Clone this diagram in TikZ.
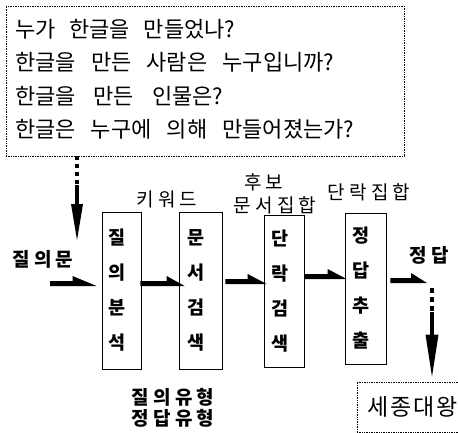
\documentclass[tikz,border=0pt]{standalone}
\usepackage{fontspec}
\setmainfont{Noto Sans CJK KR}
\usetikzlibrary{calc}
\newcommand\harr[3]{\fill (#1) -- ++(0,-5) -- ($(#2)+(-#3,-5)$) -- ++(0,-5) -- (#2) -- cycle;}
\newcommand\qfont{\fontsize{22}{26}\selectfont}
\newcommand\lfont{\fontsize{19}{21}\selectfont\addfontfeature{LetterSpace=22}}
\newcommand\afont{\fontsize{23}{26}\selectfont\addfontfeature{LetterSpace=8}}
\newcommand\qline[2]{\hbox to #1pt{#2}}
\begin{document}
\begin{tikzpicture}[x=1pt,y=-1pt,
  dotbox/.style={draw, densely dotted, line width=0.7pt, inner sep=0pt},
  qtext/.style={anchor=base west, inner sep=0pt, font=\qfont},
  stagebox/.style={draw, line width=0.8pt, inner sep=0pt},
  boxtext/.style={font=\fontsize{18.5}{35}\selectfont\bfseries, align=center, xshift=-4pt, inner sep=0pt},
  lbl/.style={inner sep=0pt, font=\lfont},
  blbl/.style={inner sep=0pt, font=\lfont\bfseries, align=center},
  vline/.style={line width=4.5pt}
]
\useasboundingbox (0,0) rectangle (458,433);

% question box
\node[dotbox, minimum width=398pt, minimum height=150pt] (qbox) at (205,81) {};
\node[qtext] (l1) at (15,38) {\qline{220}{누가\hfill 한글을\hfill 만들었나?}};
\node[qtext] (l2) at (15,71) {\qline{319}{한글을\hfill 만든\hfill 사람은\hfill 누구입니까?}};
\node[qtext] (l3) at (15,105) {\qline{208}{한글을\hfill 만든\hfill 인물은?}};
\node[qtext] (l4) at (15,138) {\qline{339}{한글은\hfill 누구에\hfill 의해\hfill 만들어졌는가?}};

% stage boxes
\node[stagebox, minimum width=39pt, minimum height=157pt,
      label={[boxtext]center:질\\의\\분\\석}] (b1) at (121.5,290.5) {};
\node[stagebox, minimum width=43pt, minimum height=157pt,
      label={[boxtext]center:문\\서\\검\\색}] (b2) at (200.5,290.5) {};
\node[stagebox, minimum width=40pt, minimum height=152pt,
      label={[boxtext]center:단\\락\\검\\색}] (b3) at (284,291) {};
\node[stagebox, minimum width=41pt, minimum height=151pt,
      label={[boxtext]center:정\\답\\추\\출}] (b4) at (365.5,288.5) {};

% answer box
\node[dotbox, minimum width=113pt, minimum height=50pt,
      label={[inner sep=0pt, font=\afont, xshift=-1pt]center:세종대왕}] (ans) at (413.5,407) {};

% labels
\node[blbl] (tq) at (43,259) {질의문};
\node[lbl] (tk) at (167,199) {키워드};
\node[lbl] (th) at (264,182) {후\hspace{4pt}보};
\node[lbl] (td) at (275,205) {문서집합};
\node[lbl] (tp) at (369,192) {단락집합};
\node[blbl] (ta) at (429,255) {정답};
\node[blbl] (tt) at (173,407.5) {질의유형\\정답유형};

% horizontal arrows
\coordinate (q0) at (50,286);
\harr{q0}{$(b1.west)+(-5,-4.5)$}{24}
\harr{$(b1.east)+(-1,-4.5)$}{$(b2.west)+(6,-4.5)$}{18}
\harr{$(b2.east)+(3,-6.5)$}{$(b3.west)+(3,-7)$}{19}
\harr{$(b3.east)+(0,-12)$}{$(b4.west)+(2,-9.5)$}{19}
\coordinate (a4e) at (427,283);
\harr{$(b4.east)+(4,-5.5)$}{a4e}{16}

% vertical arrow from question box
\path (qbox.south -| 77,0) coordinate (v1s);
\coordinate (v1e) at (77,240);
\draw[line width=4pt, dash pattern=on 4pt off 4pt] (v1s) -- ($(v1s)+(0,30)$);
\draw[vline] ($(v1s)+(0,29)$) -- ($(v1e)+(0,-34)$);
\fill ($(v1e)+(-6,-36)$) -- ($(v1e)+(6,-36)$) -- (v1e) -- cycle;

% vertical arrow to answer box
\coordinate (v2s) at (432,288);
\path (ans.north -| 432,0) coordinate (v2b);
\coordinate (v2e) at ($(v2b)+(0,-5)$);
\draw[line width=4.5pt, dash pattern=on 5pt off 4pt] (v2s) -- ($(v2s)+(0,25)$);
\draw[vline] ($(v2s)+(0,24)$) -- ($(v2e)+(0,-40)$);
\fill ($(v2e)+(-6.5,-42)$) -- ($(v2e)+(6.5,-42)$) -- (v2e) -- cycle;
\end{tikzpicture}
\end{document}
